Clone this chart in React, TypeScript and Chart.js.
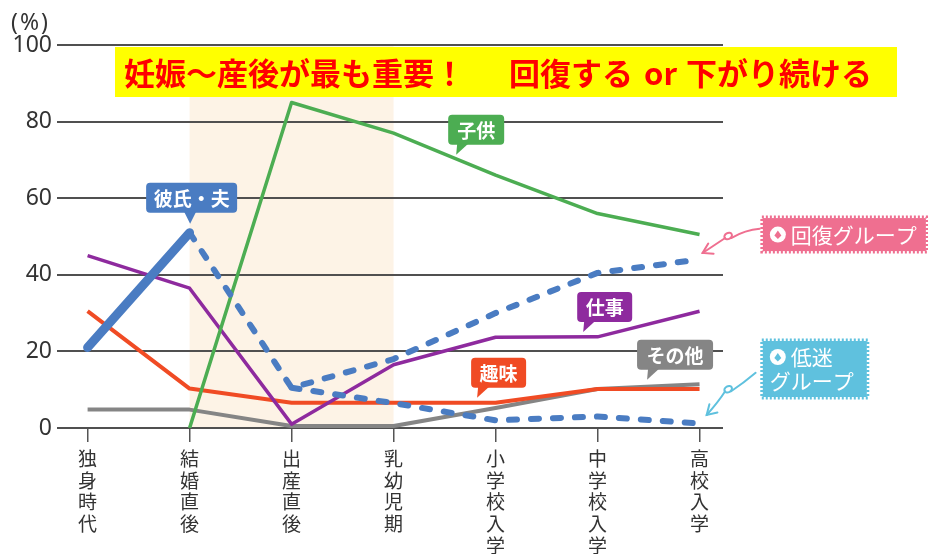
import { useEffect, useRef } from 'react';
import { Chart, registerables } from 'chart.js';

Chart.register(...registerables);

// ---- data ----
const stages: string[][] = [
  ['独', '身', '時', '代'],
  ['結', '婚', '直', '後'],
  ['出', '産', '直', '後'],
  ['乳', '幼', '児', '期'],
  ['小', '学', '校', '入', '学'],
  ['中', '学', '校', '入', '学'],
  ['高', '校', '入', '学'],
];
const partnerSolid = [21, 51, null, null, null, null, null];
const partnerRecover = [null, 51, 10.5, 18, 30, 40.5, 44];
const partnerLow = [null, null, 10.5, 6.5, 2, 3, 1.2];
const children = [null, 0, 85, 77, 66, 56, 50.5];
const work = [45, 36.5, 1, 16.5, 23.7, 23.8, 30.5];
const hobby = [30.5, 10.3, 6.6, 6.6, 6.6, 10.2, 10.2];
const other = [4.8, 4.8, 0.5, 0.5, 5.2, 10.2, 11.4];
const yTicks = [0, 20, 40, 60, 80, 100];

const bannerParts = ['妊娠～産後が最も重要！', '回復する', 'or', '下がり続ける'];
const unitText = '(%)';

const FONT = '"Noto Sans CJK JP", "Noto Sans", sans-serif';
const BLUE = '#4a7cc2';

// callouts: box centre in data space
const callouts = [
  { text: '彼氏・夫', color: BLUE, cx: 1.02, cy: 60.1, w: 91, tip: 44, sym: true },
  { text: '子供', color: '#4cad52', cx: 3.81, cy: 77.9, w: 56, tip: 8, sym: false },
  { text: '仕事', color: '#8e2a9e', cx: 5.07, cy: 31.6, w: 55, tip: 6, sym: false },
  { text: '趣味', color: '#f04b24', cx: 4.03, cy: 14.4, w: 55, tip: 6, sym: false },
  { text: 'その他', color: '#858585', cx: 5.76, cy: 19.1, w: 76, tip: 10, sym: false },
];

const toPts = (arr: (number | null)[]) => arr.map((v, i) => ({ x: i, y: v }));

function App() {
  const ref = useRef<HTMLCanvasElement | null>(null);

  useEffect(() => {
    const canvas = ref.current;
    if (!canvas) return;

    const overlay = {
      id: 'overlay',
      beforeDraw(chart: any) {
        const { ctx, scales } = chart;
        const x = scales.x, y = scales.y;
        const x0 = x.getPixelForValue(1);
        const x1 = x.getPixelForValue(3);
        const yt = y.getPixelForValue(100);
        const yb = y.getPixelForValue(0);
        ctx.save();
        ctx.fillStyle = '#fdf3e6';
        ctx.fillRect(x0, yt, x1 - x0, yb - yt);
        ctx.restore();
      },
      afterDatasetsDraw(chart: any) {
        const { ctx, scales } = chart;
        const x = scales.x, y = scales.y;
        ctx.save();
        // speech-bubble callouts
        callouts.forEach((c) => {
          const cx = x.getPixelForValue(c.cx);
          const cy = y.getPixelForValue(c.cy);
          const h = 30;
          const left = cx - c.w / 2;
          const top = cy - h / 2;
          const bottom = top + h;
          ctx.fillStyle = c.color;
          ctx.beginPath();
          ctx.roundRect(left, top, c.w, h, 4);
          ctx.fill();
          const tipX = left + c.tip;
          ctx.beginPath();
          if (c.sym) {
            ctx.moveTo(tipX - 6, bottom - 1);
            ctx.lineTo(tipX + 6, bottom - 1);
            ctx.lineTo(tipX, bottom + 11);
          } else {
            ctx.moveTo(tipX + 1, bottom - 1);
            ctx.lineTo(tipX + 12, bottom - 1);
            ctx.lineTo(tipX, bottom + 10);
          }
          ctx.closePath();
          ctx.fill();
          ctx.fillStyle = '#ffffff';
          ctx.font = `bold 19px ${FONT}`;
          ctx.textAlign = 'center';
          ctx.textBaseline = 'middle';
          ctx.fillText(c.text, cx, cy + 1);
        });

        // group boxes
        const groupBox = (cxv: number, cyv: number, w: number, h: number, col: string) => {
          const cx = x.getPixelForValue(cxv);
          const cy = y.getPixelForValue(cyv);
          const l = cx - w / 2, t = cy - h / 2;
          ctx.fillStyle = col;
          ctx.fillRect(l, t, w, h);
          ctx.strokeStyle = col;
          ctx.lineWidth = 3;
          ctx.setLineDash([2, 2]);
          ctx.strokeRect(l - 1, t - 1, w + 2, h + 2);
          ctx.setLineDash([]);
          return { l, t };
        };
        const icon = (px: number, py: number, col: string) => {
          ctx.fillStyle = '#ffffff';
          ctx.beginPath();
          ctx.arc(px, py, 8, 0, Math.PI * 2);
          ctx.fill();
          ctx.fillStyle = col;
          ctx.beginPath();
          ctx.moveTo(px, py - 4);
          ctx.lineTo(px + 3.5, py + 1);
          ctx.lineTo(px, py + 4.5);
          ctx.lineTo(px - 3.5, py + 1);
          ctx.closePath();
          ctx.fill();
        };
        const PINK = '#ef6f90';
        const SKY = '#5fc1de';
        const g1 = groupBox(7.42, 50.5, 163, 33, PINK);
        icon(g1.l + 15, g1.t + 16.5, PINK);
        ctx.fillStyle = '#ffffff';
        ctx.font = `21px ${FONT}`;
        ctx.textAlign = 'left';
        ctx.textBaseline = 'middle';
        ctx.fillText('回復グループ', g1.l + 28, g1.t + 17);

        const g2 = groupBox(7.13, 15.4, 104, 56, SKY);
        icon(g2.l + 15, g2.t + 16, SKY);
        ctx.fillStyle = '#ffffff';
        ctx.font = `21px ${FONT}`;
        ctx.fillText('低迷', g2.l + 28, g2.t + 16);
        ctx.fillText('グループ', g2.l + 7, g2.t + 40);

        // curly arrows
        const arrow = (s: number[], m: number[], e: number[], col: string) => {
          const sx = x.getPixelForValue(s[0]), sy = y.getPixelForValue(s[1]);
          const mx = x.getPixelForValue(m[0]), my = y.getPixelForValue(m[1]);
          const ex = x.getPixelForValue(e[0]), ey = y.getPixelForValue(e[1]);
          ctx.strokeStyle = col;
          ctx.lineWidth = 2;
          ctx.lineCap = 'round';
          ctx.beginPath();
          ctx.moveTo(sx, sy);
          ctx.quadraticCurveTo((sx + mx) / 2, my - 8, mx, my);
          ctx.stroke();
          ctx.beginPath();
          ctx.ellipse(mx - 3, my - 2, 4, 3, -0.5, 0, Math.PI * 2);
          ctx.stroke();
          ctx.beginPath();
          ctx.moveTo(mx - 6, my);
          ctx.quadraticCurveTo((mx + ex) / 2, (my + ey) / 2 - 2, ex, ey);
          ctx.stroke();
          const ang = Math.atan2(ey - my, ex - mx);
          ctx.beginPath();
          ctx.moveTo(ex + Math.cos(ang + Math.PI - 0.55) * 11, ey + Math.sin(ang + Math.PI - 0.55) * 11);
          ctx.lineTo(ex, ey);
          ctx.lineTo(ex + Math.cos(ang + Math.PI + 0.55) * 11, ey + Math.sin(ang + Math.PI + 0.55) * 11);
          ctx.stroke();
        };
        arrow([6.59, 52.0], [6.31, 49.6], [6.03, 45.7], PINK);
        arrow([6.55, 14.4], [6.31, 9.6], [6.07, 3.4], SKY);
        ctx.restore();
      },
      afterDraw(chart: any) {
        const { ctx } = chart;
        ctx.save();
        // banner
        ctx.fillStyle = '#ffff00';
        ctx.fillRect(115, 47, 782, 50);
        ctx.fillStyle = '#ff0000';
        ctx.font = `bold 31px ${FONT}`;
        ctx.textAlign = 'left';
        ctx.textBaseline = 'middle';
        const bx = [124, 509, 644, 686];
        bannerParts.forEach((t, i) => ctx.fillText(t, bx[i], 73));
        // unit
        ctx.fillStyle = '#333333';
        ctx.font = `23px "Noto Sans", sans-serif`;
        (ctx as any).letterSpacing = '2px';
        ctx.fillText(unitText, 11, 23);
        ctx.restore();
      },
    };

    const lineBase = {
      pointRadius: 0,
      pointHoverRadius: 0,
      tension: 0,
      fill: false,
      spanGaps: false,
      borderJoinStyle: 'round' as const,
    };

    const chart = new Chart(canvas, {
      type: 'line',
      data: {
        datasets: [
          { ...lineBase, data: toPts(partnerSolid), borderColor: BLUE, borderWidth: 9, borderCapStyle: 'round' },
          { ...lineBase, data: toPts(partnerRecover), borderColor: BLUE, borderWidth: 6, borderDash: [8, 14], borderCapStyle: 'round' },
          { ...lineBase, data: toPts(partnerLow), borderColor: BLUE, borderWidth: 6, borderDash: [8, 14], borderCapStyle: 'round' },
          { ...lineBase, data: toPts(children), borderColor: '#4cad52', borderWidth: 3.5 },
          { ...lineBase, data: toPts(work), borderColor: '#8e2a9e', borderWidth: 3.5 },
          { ...lineBase, data: toPts(hobby), borderColor: '#f04b24', borderWidth: 4 },
          { ...lineBase, data: toPts(other), borderColor: '#858585', borderWidth: 4 },
        ] as any,
      },
      options: {
        responsive: false,
        animation: false,
        events: [],
        layout: { padding: { top: 45, right: 205, left: 0, bottom: 0 } },
        plugins: { legend: { display: false }, tooltip: { enabled: false } },
        scales: {
          x: {
            type: 'linear',
            min: -0.3,
            max: 6.23,
            afterBuildTicks: (scale: any) => {
              scale.ticks = stages.map((_, i) => ({ value: i }));
            },
            afterFit: (scale: any) => {
              scale.height = 126;
            },
            ticks: {
              autoSkip: false,
              maxRotation: 0,
              minRotation: 0,
              padding: 6,
              color: '#333333',
              font: { family: FONT, size: 19, lineHeight: 1.14 },
              callback: (v: any) => stages[v as number] ?? '',
            },
            grid: {
              drawOnChartArea: false,
              drawTicks: true,
              tickLength: 14,
              color: '#555555',
              lineWidth: 1.5,
            },
            border: { display: false },
          },
          y: {
            type: 'linear',
            min: 0,
            max: 100,
            afterBuildTicks: (scale: any) => {
              scale.ticks = yTicks.map((v) => ({ value: v }));
            },
            afterFit: (scale: any) => {
              scale.width = 57;
            },
            ticks: {
              padding: 5,
              color: '#333333',
              font: { family: '"Noto Sans", sans-serif', size: 23 },
            },
            grid: {
              drawTicks: false,
              color: '#505050',
              lineWidth: 2,
            },
            border: { display: false },
          },
        },
      },
      plugins: [overlay],
    } as any);

    return () => chart.destroy();
  }, []);

  return (
    <div style={{ position: 'fixed', left: 0, top: 0, width: 928, height: 554, background: '#ffffff' }}>
      <canvas ref={ref} width={928} height={554} style={{ width: 928, height: 554, display: 'block' }} />
    </div>
  );
}

export default App;
